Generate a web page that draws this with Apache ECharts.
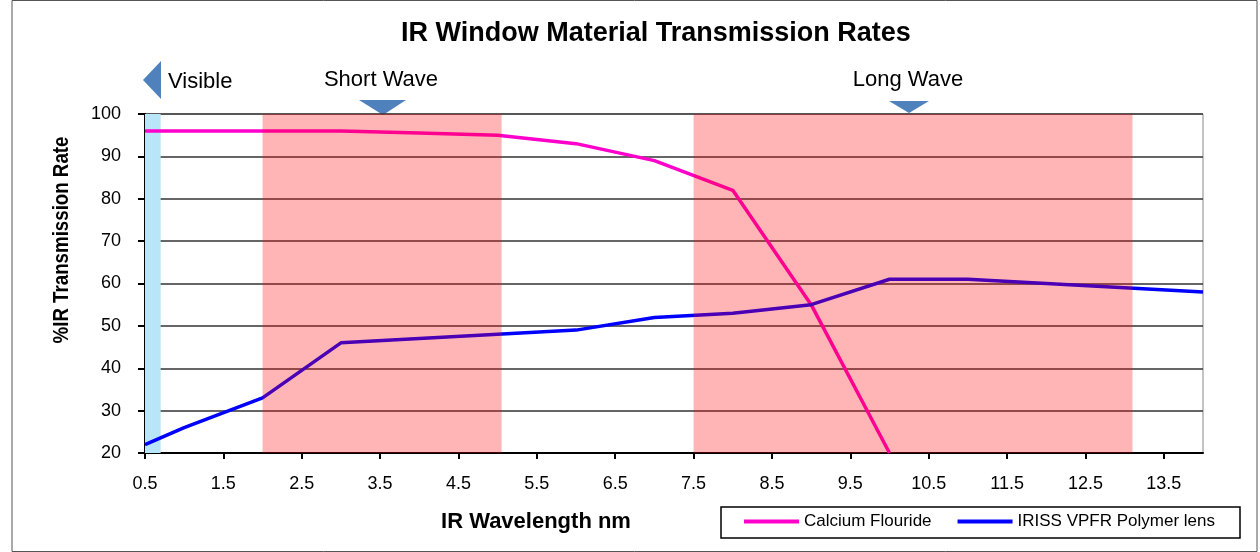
<!DOCTYPE html>
<html>
<head>
<meta charset="UTF-8">
<title>IR Window Material Transmission Rates</title>
<script src="https://cdn.jsdelivr.net/npm/echarts@6/dist/echarts.min.js"></script>
<style>
  html, body { margin: 0; padding: 0; background: #fff; }
  #main { width: 1260px; height: 552px; }
</style>
</head>
<body>
<div id="main"></div>
<script>
// data
var caWave = [0.5, 1, 2, 3, 4, 5, 6, 7, 8, 9, 10];
var caRate = [96, 96, 96, 96, 95.5, 95, 93, 89, 82, 55, 20];
var irissWave = [0.5, 1, 2, 3, 4, 5, 6, 7, 8, 9, 10, 11, 12, 13, 14];
var irissRate = [22, 26, 33, 46, 47, 48, 49, 52, 53, 55, 61, 61, 60, 59, 58];
// shaded wave bands [from, to]
var visibleBand = [[0.5, 0.7]];
var irBands = [[2, 5.05], [7.5, 13.1]];

function pairs(xs, ys) {
  var out = [];
  for (var i = 0; i < xs.length; i++) out.push([xs[i], ys[i]]);
  return out;
}

function bandItem(color) {
  return function (params, api) {
    var p1 = api.coord([api.value(0), 100]);
    var p2 = api.coord([api.value(1), 20]);
    return {
      type: 'rect',
      shape: { x: p1[0], y: p1[1], width: p2[0] - p1[0], height: p2[1] - p1[1] },
      style: { fill: color }
    };
  };
}

var font = 'Liberation Sans, Arial, sans-serif';
var chart = echarts.init(document.getElementById('main'));

chart.setOption({
  animation: false,
  textStyle: { fontFamily: font },
  title: {
    text: 'IR Window Material Transmission Rates',
    left: 396, top: 15,
    textStyle: { fontSize: 27, fontWeight: 'bold', color: '#000', fontFamily: font }
  },
  grid: {
    left: 145, right: 57, top: 114, bottom: 99,
    show: true, borderColor: '#888', borderWidth: 1
  },
  legend: {
    left: 744, top: 513, padding: 0,
    itemWidth: 55, itemHeight: 4, itemGap: 26,
    icon: 'rect',
    textStyle: { fontSize: 17, color: '#000', fontFamily: font },
    data: ['Calcium Flouride', 'IRISS VPFR Polymer lens']
  },
  xAxis: {
    type: 'value', min: 0.5, max: 14, interval: 1,
    axisLine: { lineStyle: { color: '#000', width: 2 } },
    axisTick: { show: true, length: 6, lineStyle: { color: '#000', width: 2 } },
    axisLabel: { fontSize: 18, color: '#000', margin: 22, showMaxLabel: false },
    splitLine: { show: false }
  },
  yAxis: {
    type: 'value', min: 20, max: 100, interval: 10,
    axisLine: { show: true, lineStyle: { color: '#000', width: 2 } },
    axisTick: { show: true, length: 7, lineStyle: { color: '#000', width: 2 } },
    axisLabel: { fontSize: 18, color: '#000', margin: 24 },
    splitLine: { lineStyle: { color: '#333', width: 1.5 } }
  },
  series: [
    {
      name: 'visible', type: 'custom', z: 1, silent: true,
      renderItem: bandItem('#b8e6f8'),
      data: visibleBand
    },
    {
      name: 'Calcium Flouride', type: 'line', z: 3,
      data: pairs(caWave, caRate),
      showSymbol: false, symbol: 'none',
      color: '#ff00cc',
      lineStyle: { color: '#ff00cc', width: 3.5 }
    },
    {
      name: 'IRISS VPFR Polymer lens', type: 'line', z: 3,
      data: pairs(irissWave, irissRate),
      showSymbol: false, symbol: 'none',
      color: '#0000ff',
      lineStyle: { color: '#0000ff', width: 3.5 }
    },
    {
      name: 'bands', type: 'custom', z: 10, silent: true,
      renderItem: bandItem('rgba(255,0,0,0.29)'),
      data: irBands
    }
  ],
  graphic: [
    // chart frame and legend box
    { type: 'rect', shape: { x: 12, y: 0.5, width: 1245, height: 551 },
      style: { fill: 'none', stroke: '#555', lineWidth: 1 } },
    { type: 'rect', shape: { x: 721, y: 507, width: 519, height: 31 },
      style: { fill: 'none', stroke: '#000', lineWidth: 1.5 } },
    // axis titles (y title is condensed like the original)
    { type: 'text', x: 62, y: 240, rotation: Math.PI / 2, scaleX: 0.85,
      style: { text: '%IR Transmission Rate', fontSize: 22, fontWeight: 'bold',
        fill: '#000', fontFamily: font, align: 'center', verticalAlign: 'middle' } },
    { type: 'text', x: 536, y: 522,
      style: { text: 'IR Wavelength nm', fontSize: 22, fontWeight: 'bold',
        fill: '#000', fontFamily: font, align: 'center', verticalAlign: 'middle' } },
    // wave annotations
    { type: 'polygon', shape: { points: [[143, 80], [161, 61], [161, 99]] },
      style: { fill: '#4f81bd' } },
    { type: 'text', x: 168, y: 82,
      style: { text: 'Visible', fontSize: 22, fill: '#000', fontFamily: font,
        align: 'left', verticalAlign: 'middle' } },
    { type: 'text', x: 381, y: 80,
      style: { text: 'Short Wave', fontSize: 22, fill: '#000', fontFamily: font,
        align: 'center', verticalAlign: 'middle' } },
    { type: 'polygon', shape: { points: [[359, 100], [406, 100], [383, 115]] },
      style: { fill: '#4f81bd' } },
    { type: 'text', x: 908, y: 80,
      style: { text: 'Long Wave', fontSize: 22, fill: '#000', fontFamily: font,
        align: 'center', verticalAlign: 'middle' } },
    { type: 'polygon', shape: { points: [[889, 101], [929, 101], [909, 113]] },
      style: { fill: '#4f81bd' } }
  ]
});
</script>
</body>
</html>
